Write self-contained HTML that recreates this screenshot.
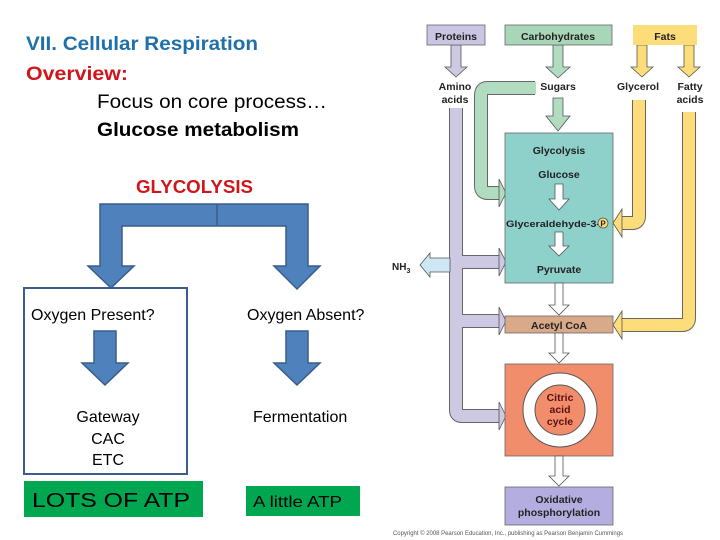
<!DOCTYPE html>
<html><head><meta charset="utf-8"><style>
html,body{margin:0;padding:0;background:#fff;}
svg{display:block;}
text{font-family:"Liberation Sans",sans-serif;}
</style></head><body>
<svg width="720" height="540" viewBox="0 0 720 540" xmlns="http://www.w3.org/2000/svg">
<rect width="720" height="540" fill="#fff"/>
<!-- Title text -->
<text x="26" y="50" font-size="19" font-weight="bold" fill="#1f6fa8" textLength="232" lengthAdjust="spacingAndGlyphs">VII. Cellular Respiration</text>
<text x="26" y="80" font-size="19" font-weight="bold" fill="#d0161a" textLength="102" lengthAdjust="spacingAndGlyphs">Overview:</text>
<text x="97" y="108" font-size="19" fill="#000" textLength="230" lengthAdjust="spacingAndGlyphs">Focus on core process…</text>
<text x="97" y="136" font-size="19" font-weight="bold" fill="#000" textLength="202" lengthAdjust="spacingAndGlyphs">Glucose metabolism</text>
<text x="136" y="193" font-size="18" font-weight="bold" fill="#d0161a" textLength="117" lengthAdjust="spacingAndGlyphs">GLYCOLYSIS</text>

<!-- bracket arrow -->
<g fill="#4f81bd" stroke="#385d8a" stroke-width="1.5">
<path d="M100,204 L308,204 L308,266 L320,266 L297,289 L274,266 L286,266 L286,226 L122,226 L122,266 L134,266 L111,288 L88,266 L100,266 Z"/>
<line x1="217" y1="204" x2="217" y2="226"/>
<path d="M94,331 L116,331 L116,363 L128,363 L105,385 L82,363 L94,363 Z"/>
<path d="M286,331 L308,331 L308,363 L320,363 L297,385 L274,363 L286,363 Z"/>
</g>
<rect x="24" y="288" width="163" height="186" fill="none" stroke="#3b5c8c" stroke-width="2"/>
<text x="31" y="320" font-size="16" fill="#000">Oxygen Present?</text>
<text x="247" y="320" font-size="16" fill="#000">Oxygen Absent?</text>
<text x="108" y="422" font-size="16" fill="#000" text-anchor="middle">Gateway</text>
<text x="108" y="444" font-size="16" fill="#000" text-anchor="middle">CAC</text>
<text x="108" y="465" font-size="16" fill="#000" text-anchor="middle">ETC</text>
<text x="253" y="422" font-size="16" fill="#000">Fermentation</text>
<rect x="24" y="481" width="179" height="36" fill="#00a650"/>
<text x="32" y="507" font-size="20" fill="#000" textLength="158" lengthAdjust="spacingAndGlyphs">LOTS OF ATP</text>
<rect x="246" y="486" width="114" height="30" fill="#00a650"/>
<text x="253" y="507" font-size="16" fill="#000" textLength="89" lengthAdjust="spacingAndGlyphs">A little ATP</text>

<!-- Right diagram -->
<g font-weight="bold" font-size="10.5" fill="#222">
<!-- pipes: outlines -->
<g fill="none" stroke="#666" stroke-width="14" stroke-linejoin="round">
<path d="M456,108 L456,410 Q456,416 462,416 L500,416"/>
<path d="M456,255 Q456,262 463,262 L500,262"/>
<path d="M456,314 Q456,321 463,321 L500,321"/>
<path d="M689,112 L689,318 Q689,325 682,325 L622,325"/>
<path d="M639,100 L639,216 Q639,223 632,223 L622,223"/>
<path d="M535,88 L487,88 Q481,88 481,96 L481,186 Q481,193 488,193 L500,193"/>
</g>
<g fill="none" stroke-width="12" stroke-linejoin="round">
<path d="M456,108 L456,410 Q456,416 462,416 L501,416" stroke="#cdc9e3"/>
<path d="M456,255 Q456,262 463,262 L501,262" stroke="#cdc9e3"/>
<path d="M456,314 Q456,321 463,321 L501,321" stroke="#cdc9e3"/>
<path d="M689,112 L689,318 Q689,325 682,325 L621,325" stroke="#fddc7a"/>
<path d="M639,100 L639,216 Q639,223 632,223 L621,223" stroke="#fddc7a"/>
<path d="M536,88 L487,88 Q481,88 481,96 L481,186 Q481,193 488,193 L501,193" stroke="#b1dcc0"/>
</g>
<!-- arrowheads -->
<g stroke="#555" stroke-width="0.8">
<polygon points="499,255 499,248 506,262 499,276 499,269" fill="#cdc9e3"/>
<polygon points="499,314 499,307 506,321 499,335 499,328" fill="#cdc9e3"/>
<polygon points="499,409 499,402 506,416 499,430 499,423" fill="#cdc9e3"/>
<polygon points="622,318 622,311 613,325 622,339 622,332" fill="#fddc7a"/>
<polygon points="622,216 622,209 613,223 622,237 622,230" fill="#fddc7a"/>
<polygon points="499,186 499,179 506,193 499,207 499,200" fill="#b1dcc0"/>
<!-- down arrows under source boxes -->
<polygon points="451,45 461,45 461,67 467,67 456,77 445,67 451,67" fill="#cdc9e3"/>
<polygon points="553,45 563,45 563,67 570,67 558,78 546,67 553,67" fill="#b1dcc0"/>
<polygon points="553,98 563,98 563,116 570,116 558,131 546,116 553,116" fill="#b1dcc0"/>
<polygon points="637,45 647,45 647,67 653,67 642,77 631,67 637,67" fill="#fddc7a"/>
<polygon points="684,45 694,45 694,67 700,67 689,77 678,67 684,67" fill="#fddc7a"/>
<!-- NH3 -->
<polygon points="450,258 430,258 430,253 420,265 430,277 430,272 450,272" fill="#cde8f4"/>
</g>
<rect x="427" y="25" width="58" height="20" fill="#c9c5e2" stroke="#666" stroke-width="0.8"/>
<rect x="505" y="25" width="107" height="20" fill="#a9d6b8" stroke="#666" stroke-width="0.8"/>
<rect x="633" y="25" width="64" height="20" fill="#fddc7a"/>
<text x="456" y="40" text-anchor="middle">Proteins</text>
<text x="558" y="40" text-anchor="middle">Carbohydrates</text>
<text x="665" y="40" text-anchor="middle">Fats</text>
<text x="455" y="90" text-anchor="middle">Amino</text>
<text x="455" y="103" text-anchor="middle">acids</text>
<text x="558" y="90" text-anchor="middle">Sugars</text>
<text x="638" y="90" text-anchor="middle">Glycerol</text>
<text x="690" y="90" text-anchor="middle">Fatty</text>
<text x="690" y="103" text-anchor="middle">acids</text>
<text x="392" y="270" font-size="10">NH<tspan font-size="7" dy="3">3</tspan></text>
<!-- glycolysis box -->
<rect x="505" y="133" width="108" height="150" fill="#8ed1ca" stroke="#666" stroke-width="0.8"/>
<text x="559" y="154" text-anchor="middle">Glycolysis</text>
<text x="559" y="178" text-anchor="middle">Glucose</text>
<polygon points="555,184 563,184 563,199 569,199 559,210 549,199 555,199" fill="#fff" stroke="#555" stroke-width="0.8"/>
<text x="506" y="227" font-size="9.5" textLength="94" lengthAdjust="spacingAndGlyphs">Glyceraldehyde-3-</text>
<circle cx="603" cy="223" r="5" fill="#fddc7a" stroke="#555" stroke-width="0.8"/>
<text x="603" y="226.5" font-size="8" text-anchor="middle">P</text>
<polygon points="555,232 563,232 563,246 569,246 559,256 549,246 555,246" fill="#fff" stroke="#555" stroke-width="0.8"/>
<text x="559" y="273" text-anchor="middle">Pyruvate</text>
<polygon points="555,283 563,283 563,305 569,305 559,315 549,305 555,305" fill="#fff" stroke="#555" stroke-width="0.8"/>
<rect x="505" y="316" width="108" height="17" fill="#d9aa8a" stroke="#666" stroke-width="0.8"/>
<text x="559" y="329" text-anchor="middle">Acetyl CoA</text>
<polygon points="555,333 563,333 563,353 569,353 559,363 549,353 555,353" fill="#fff" stroke="#555" stroke-width="0.8"/>
<rect x="505" y="364" width="108" height="92" fill="#f28d6c" stroke="#666" stroke-width="0.8"/>
<circle cx="560" cy="410" r="31" fill="none" stroke="#555" stroke-width="13"/>
<circle cx="560" cy="410" r="31" fill="none" stroke="#fff" stroke-width="11"/>
<text x="560" y="401" text-anchor="middle" fill="#5a1010">Citric</text>
<text x="560" y="413" text-anchor="middle" fill="#5a1010">acid</text>
<text x="560" y="425" text-anchor="middle" fill="#5a1010">cycle</text>
<polygon points="555,456 563,456 563,476 569,476 559,486 549,476 555,476" fill="#fff" stroke="#555" stroke-width="0.8"/>
<rect x="505" y="487" width="108" height="38" fill="#b4aee0" stroke="#666" stroke-width="0.8"/>
<text x="559" y="503" text-anchor="middle">Oxidative</text>
<text x="559" y="516" text-anchor="middle">phosphorylation</text>
</g>
<text x="393" y="535" font-size="6" fill="#555" textLength="230" lengthAdjust="spacingAndGlyphs">Copyright © 2008 Pearson Education, Inc., publishing as Pearson Benjamin Cummings</text>
</svg>
</body></html>
